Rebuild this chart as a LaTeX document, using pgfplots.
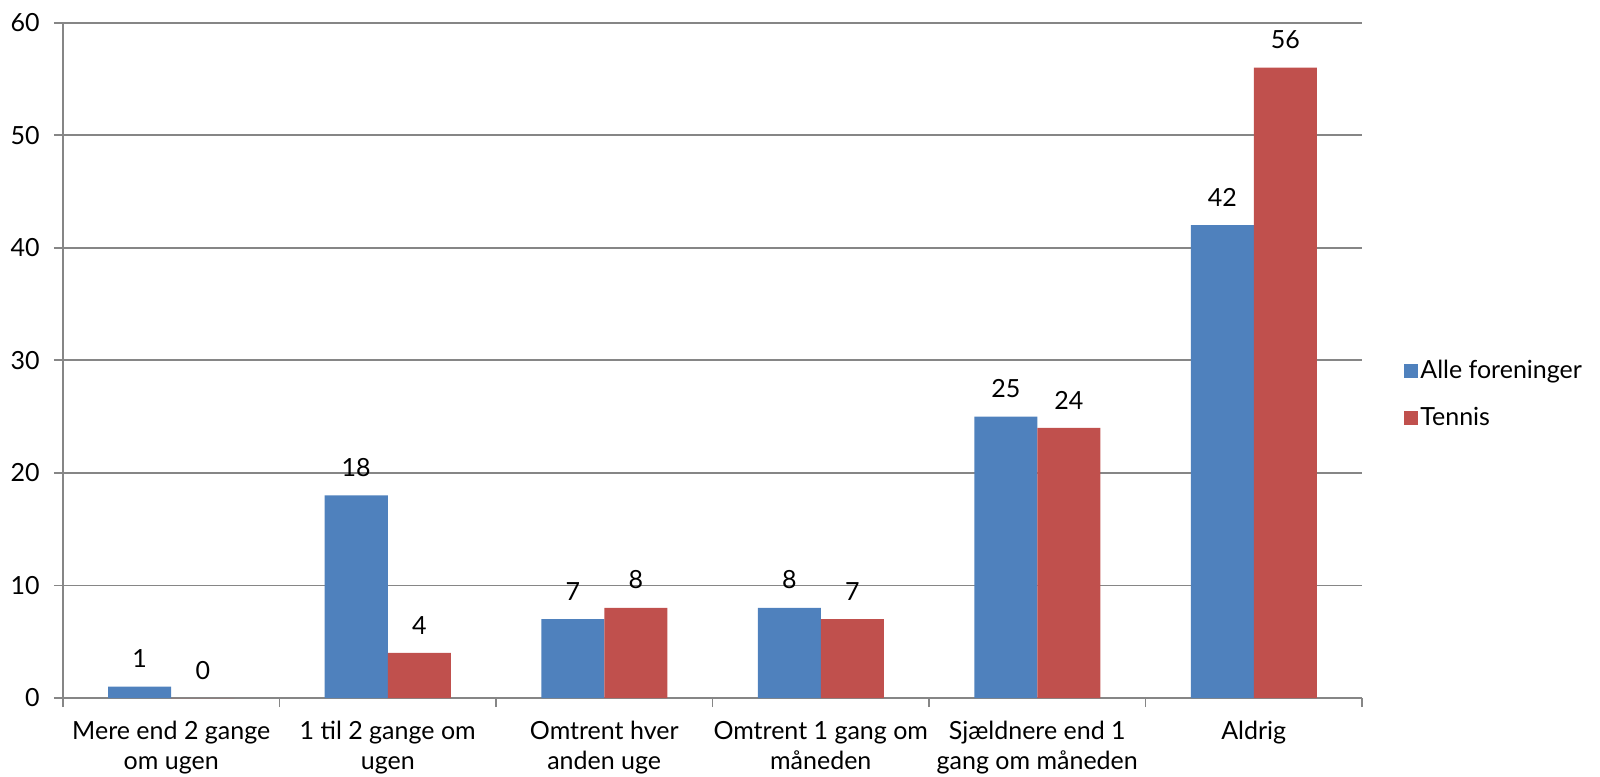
\documentclass[border=0pt]{standalone}
\usepackage{pgfplots}
\pgfplotsset{compat=1.18}
\usepackage{fontspec}
\setmainfont{Lato}

\definecolor{serieblue}{RGB}{79,129,189}
\definecolor{seriered}{RGB}{192,80,77}
\definecolor{gridgray}{RGB}{134,134,134}

\newcommand{\lblfont}{\fontsize{12.5}{15}\selectfont}

\begin{document}
\begin{tikzpicture}
\begin{axis}[
  scale only axis,
  width=649.5pt, height=337.7pt,
  xmin=-0.5, xmax=5.5,
  ymin=0, ymax=60,
  ytick={0,10,...,60},
  ymajorgrids,
  grid style={gridgray, line width=0.9pt},
  axis line style={gridgray, line width=0.9pt},
  axis x line*=bottom,
  axis y line*=left,
  tick align=outside,
  major tick length=4.5pt,
  tick style={gridgray, line width=0.9pt},
  ticklabel style={font=\lblfont},
  /pgf/number format/assume math mode=true,
  yticklabel style={inner sep=0pt, xshift=-7pt},
  xtick={-0.5,0.5,...,5.5},
  xticklabels={},
  extra x ticks={0,1,2,3,4,5},
  extra x tick labels={
    Mere end 2 gange\\om ugen,
    1 til 2 gange om\\ugen,
    Omtrent hver\\anden uge,
    Omtrent 1 gang om\\måneden,
    Sjældnere end 1\\gang om måneden,
    Aldrig},
  extra x tick style={major tick length=0pt,
    xticklabel style={align=center, inner sep=0pt, yshift=-11.5pt, font=\lblfont}},
  ybar=0pt,
  bar width=31.5pt,
  nodes near coords,
  every node near coord/.append style={font=\lblfont, inner sep=0pt, anchor=south, yshift=9.2pt, black},
  legend style={draw=none, at={(1,0.5)}, anchor=west, xshift=18pt, yshift=-17pt,
    font=\lblfont, row sep=11pt,
    nodes={inner sep=1pt, anchor=west}},
  legend cell align=left,
  legend image code/.code={\fill (0pt,-3.5pt) rectangle (7pt,3.5pt);},
]
\addplot[fill=serieblue, draw=none] coordinates {(0,1) (1,18) (2,7) (3,8) (4,25) (5,42)};
\addlegendentry{Alle foreninger}
\addplot[fill=seriered, draw=none] coordinates {(0,0) (1,4) (2,8) (3,7) (4,24) (5,56)};
\addlegendentry{Tennis}
\end{axis}
\pgfresetboundingbox
\path (current axis.south west) ++(-31.5pt,-39pt) rectangle ++(800pt,388pt);
\end{tikzpicture}
\end{document}
